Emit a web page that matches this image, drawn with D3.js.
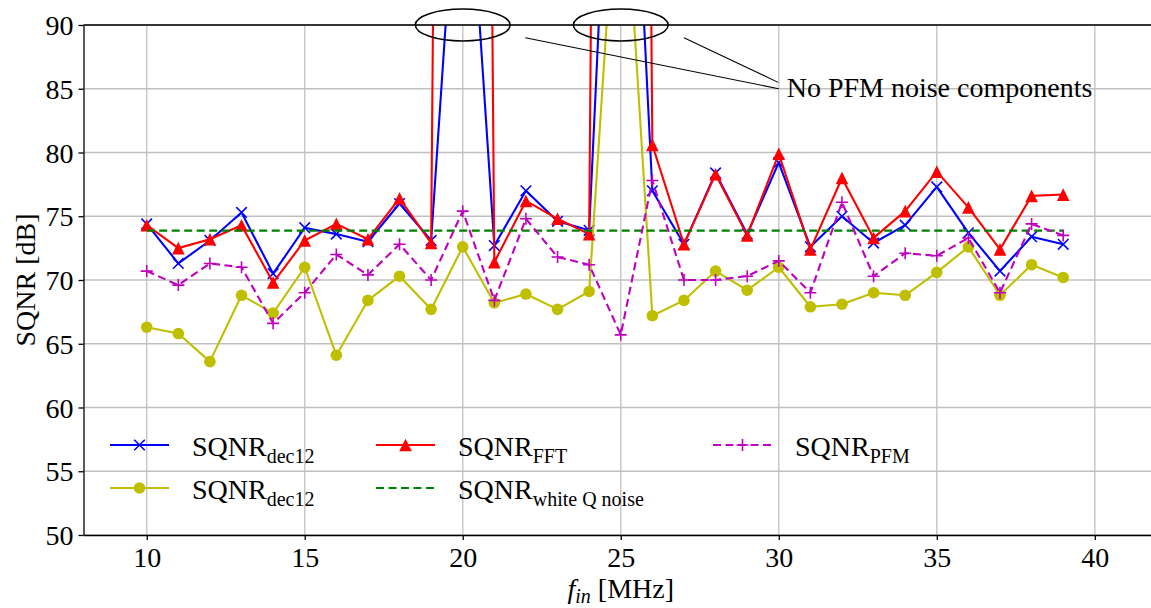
<!DOCTYPE html>
<html>
<head>
<meta charset="utf-8">
<script src="https://cdn.jsdelivr.net/npm/d3@7"></script>
<style>
  body { margin: 0; background: #fff; }
  text { font-family: "Liberation Serif", "DejaVu Serif", serif; fill: #000; }
</style>
</head>
<body>
<script>
'use strict';

// input frequencies in MHz
const freqs = [10, 11, 12, 13, 14, 15, 16, 17, 18, 19, 20, 21, 22, 23, 24,
               25, 26, 27, 28, 29, 30, 31, 32, 33, 34, 35, 36, 37, 38, 39];

// SQNR values (dB), spikes at 20 and 25 go off the top
const sqnrDec12 = [74.4, 71.3, 73.1, 75.3, 70.5, 74.1, 73.6, 73.0, 76.0, 73.1,
                   110, 72.7, 77.0, 74.6, 73.9, 127, 77.0, 72.8, 78.4, 73.6,
                   79.2, 72.6, 75.0, 72.9, 74.3, 77.3, 73.7, 70.7, 73.4, 72.8];
const sqnrDec12b = [66.3, 65.8, 63.6, 68.8, 67.4, 71.0, 64.1, 68.4, 70.3, 67.7,
                    72.6, 68.2, 68.9, 67.7, 69.1, 107, 67.2, 68.4, 70.7, 69.2,
                    71.0, 67.9, 68.1, 69.0, 68.8, 70.6, 72.6, 68.8, 71.2, 70.2];
const sqnrFFT = [74.3, 72.5, 73.2, 74.3, 69.8, 73.1, 74.4, 73.2, 76.4, 72.9,
                 370, 71.4, 76.2, 74.8, 73.6, 375, 80.6, 72.8, 78.3, 73.5,
                 79.9, 72.4, 78.0, 73.3, 75.4, 78.5, 75.7, 72.4, 76.6, 76.7];
const sqnrWhite = 73.87;
const sqnrPFM = [70.7, 69.6, 71.3, 71.0, 66.6, 69.0, 72.0, 70.4, 72.8, 70.0,
                 75.4, 68.4, 74.8, 71.8, 71.2, 65.7, 77.8, 70.0, 70.0, 70.3,
                 71.5, 69.0, 76.1, 70.3, 72.1, 71.9, 73.3, 69.0, 74.4, 73.5];

// axis ticks
const xTicks = [10, 15, 20, 25, 30, 35, 40];
const yTicks = [50, 55, 60, 65, 70, 75, 80, 85, 90];

// annotation: circled spikes and where the note sits (data units)
const spikeFreqs = [20, 25];
const noteStarts = [[21.98, 89.0], [27.0, 89.0]];
const noteEnds = [[30.0, 85.0], [29.98, 85.5]];
const noteAt = [30.25, 85];
const noteText = "No PFM noise components";

(function() {

  const W = 1151, H = 608;
  const pLeft = 83.5, pRight = 1158, pTop = 25, pBottom = 535;
  const fontPx = '28px', subPx = '20px';

  let svg = d3.select('body').append('svg')
    .attr('width', W)
    .attr('height', H);

  let x = d3.scaleLinear().domain([8, 42]).range([pLeft, pRight]);
  let y = d3.scaleLinear().domain([50, 90]).range([pBottom, pTop]);

  // clip for data marks
  svg.append('clipPath').attr('id', 'plotclip')
    .append('rect')
    .attr('x', pLeft).attr('y', pTop)
    .attr('width', pRight - pLeft).attr('height', pBottom - pTop);

  // grid
  let grid = svg.append('g');
  grid.selectAll('.vg').data(xTicks).enter().append('line')
    .attr('x1', d => x(d)).attr('x2', d => x(d))
    .attr('y1', pTop).attr('y2', pBottom)
    .attr('stroke', '#c8c8c8').attr('stroke-width', 1.5);
  grid.selectAll('.hg').data(yTicks).enter().append('line')
    .attr('x1', pLeft).attr('x2', pRight)
    .attr('y1', d => y(d)).attr('y2', d => y(d))
    .attr('stroke', '#c0c0c0').attr('stroke-width', 1.5);

  // series list in matplotlib draw order
  let series = [
    { name: 'dec12', vals: sqnrDec12, color: '#0000ff', marker: 'x', dash: null },
    { name: 'dec12', vals: sqnrDec12b, color: '#bfbf00', marker: 'o', dash: null },
    { name: 'FFT', vals: sqnrFFT, color: '#ff0000', marker: '^', dash: null },
    { name: 'white Q noise', vals: freqs.map(() => sqnrWhite), color: '#008000', marker: null, dash: '8,4.5' },
    { name: 'PFM', vals: sqnrPFM, color: '#bf00bf', marker: '+', dash: '8,4.5' }
  ];

  // draw one marker at px, py
  function drawMarker(g, type, color, px, py) {
    if (type === 'o') {
      g.append('circle').attr('cx', px).attr('cy', py).attr('r', 5.8)
        .attr('fill', color);
    } else if (type === '^') {
      let s = 6.3;
      g.append('path')
        .attr('d', `M${px},${py - s}L${px - s},${py + s}L${px + s},${py + s}Z`)
        .attr('fill', color);
    } else if (type === 'x') {
      let s = 5.3;
      g.append('path')
        .attr('d', `M${px - s},${py - s}L${px + s},${py + s}M${px - s},${py + s}L${px + s},${py - s}`)
        .attr('stroke', color).attr('stroke-width', 1.6).attr('fill', 'none');
    } else if (type === '+') {
      let s = 6;
      g.append('path')
        .attr('d', `M${px - s},${py}L${px + s},${py}M${px},${py - s}L${px},${py + s}`)
        .attr('stroke', color).attr('stroke-width', 1.6).attr('fill', 'none');
    }
  }

  let plot = svg.append('g').attr('clip-path', 'url(#plotclip)');
  let line = d3.line().x(d => x(d[0])).y(d => y(d[1]));

  series.forEach(s => {
    let pts = freqs.map((f, i) => [f, s.vals[i]]);
    plot.append('path')
      .datum(pts)
      .attr('d', line)
      .attr('fill', 'none')
      .attr('stroke', s.color)
      .attr('stroke-width', 2.1)
      .attr('stroke-linejoin', 'round')
      .attr('stroke-dasharray', s.dash);
    if (s.marker) {
      pts.forEach(p => drawMarker(plot, s.marker, s.color, x(p[0]), y(p[1])));
    }
  });

  // axes
  let xAxis = d3.axisBottom(x).tickValues(xTicks).tickSize(5).tickSizeOuter(0).tickPadding(5);
  let gx = svg.append('g').attr('transform', `translate(0,${pBottom})`).call(xAxis);
  gx.select('.domain').attr('stroke', '#000').attr('stroke-width', 1.3);
  gx.selectAll('.tick line').attr('stroke', '#000').attr('stroke-width', 1.3);
  gx.selectAll('.tick text').style('font-size', fontPx).style('font-family', '"Liberation Serif", serif')
    .attr('dy', '0.78em');

  let yAxis = d3.axisLeft(y).tickValues(yTicks).tickSize(5).tickSizeOuter(0).tickPadding(5);
  let gy = svg.append('g').attr('transform', `translate(${pLeft},0)`).call(yAxis);
  gy.select('.domain').attr('stroke', '#000').attr('stroke-width', 1.3);
  gy.selectAll('.tick line').attr('stroke', '#000').attr('stroke-width', 1.3);
  gy.selectAll('.tick text').style('font-size', fontPx).style('font-family', '"Liberation Serif", serif')
    .attr('dy', '0.34em');

  // top spine
  svg.append('line')
    .attr('x1', pLeft).attr('x2', pRight)
    .attr('y1', pTop).attr('y2', pTop)
    .attr('stroke', '#000').attr('stroke-width', 1.3);

  // axis labels
  let xl = svg.append('text')
    .attr('x', (pLeft + pRight) / 2)
    .attr('y', 598)
    .attr('text-anchor', 'middle')
    .style('font-size', fontPx);
  xl.append('tspan').style('font-style', 'italic').text('f');
  xl.append('tspan').style('font-style', 'italic').style('font-size', subPx).attr('dy', 5).text('in');
  xl.append('tspan').attr('dy', -5).text(' [MHz]');

  svg.append('text')
    .attr('transform', `translate(35,${(pTop + pBottom) / 2})rotate(-90)`)
    .attr('text-anchor', 'middle')
    .style('font-size', fontPx)
    .text('SQNR [dB]');

  // annotation ellipses and pointer lines
  spikeFreqs.forEach(f => {
    svg.append('ellipse')
      .attr('cx', x(f)).attr('cy', y(90))
      .attr('rx', x(f + 1.5) - x(f))
      .attr('ry', y(90) - y(91.25))
      .attr('fill', 'none').attr('stroke', '#000').attr('stroke-width', 1.5);
  });
  noteStarts.forEach((s, i) => {
    svg.append('line')
      .attr('x1', x(s[0])).attr('y1', y(s[1]))
      .attr('x2', x(noteEnds[i][0])).attr('y2', y(noteEnds[i][1]))
      .attr('stroke', '#000').attr('stroke-width', 1.1);
  });
  svg.append('text')
    .attr('x', x(noteAt[0]))
    .attr('y', y(noteAt[1]))
    .attr('dy', '0.3em')
    .style('font-size', fontPx)
    .text(noteText);

  // legend, 3 columns filled column-wise
  let legendCols = [110, 376, 713];
  let legendRows = [445, 488];
  series.forEach((s, i) => {
    let col = Math.floor(i / 2), row = i % 2;
    let lx = legendCols[col], ly = legendRows[row];
    let g = svg.append('g');
    g.append('line')
      .attr('x1', lx).attr('x2', lx + 59)
      .attr('y1', ly).attr('y2', ly)
      .attr('stroke', s.color).attr('stroke-width', 2.1)
      .attr('stroke-dasharray', s.dash);
    if (s.marker) drawMarker(g, s.marker, s.color, lx + 29.5, ly);
    let t = g.append('text')
      .attr('x', lx + 82)
      .attr('y', ly + 11)
      .style('font-size', fontPx);
    t.append('tspan').text('SQNR');
    t.append('tspan').attr('dy', 7).style('font-size', subPx).text(s.name);
  });

})();
</script>
</body>
</html>
